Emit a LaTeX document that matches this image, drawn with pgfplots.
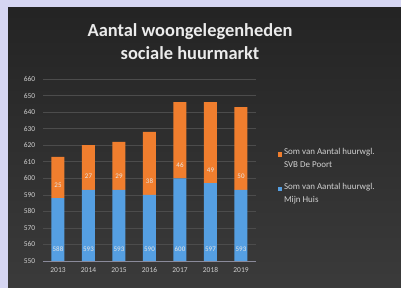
\documentclass[border=0pt]{standalone}
\usepackage{fontspec}
\setmainfont{Carlito}
\usepackage{pgfplots}
\pgfplotsset{compat=1.18}
\usepackage{pgfplotstable}
\definecolor{bgborder}{HTML}{D6D6F2}
\definecolor{barorange}{HTML}{F07E2E}
\definecolor{barblue}{HTML}{559FE2}
\definecolor{ticktext}{HTML}{D0D0D0}
\definecolor{gridc}{HTML}{4C4C4C}
\definecolor{axisc}{HTML}{8A8A9A}

\pgfplotstableread{
x blue orange
0 588 25
1 593 27
2 593 29
3 590 38
4 600 46
5 597 49
6 593 50
}\datatable

\pgfplotstableread{
x y lab
0 557 588
1 557 593
2 557 593
3 557 590
4 557 600
5 557 597
6 557 593
0 596 25
1 601 27
2 601 29
3 598 38
4 608 46
5 605 49
6 601 50
}\labeltable

\begin{document}
\begin{tikzpicture}
\useasboundingbox (0,0) rectangle (401bp,288bp);
\fill[bgborder] (0,0) rectangle (401bp,288bp);
\shade[top color=black!86, bottom color=black!77] (8bp,0) rectangle (401bp,280bp);
\node[font=\bfseries\fontsize{18.5}{23}\selectfont, text=white!92!black, align=center] at (190bp,246.5bp) {Aantal woongelegenheden\\sociale huurmarkt};
\begin{axis}[
  at={(42.75bp,27bp)}, anchor=south west,
  scale only axis, width=213.5bp, height=182bp,
  ybar stacked, bar width=13bp,
  ymin=550, ymax=660, xmin=-0.5, xmax=6.5,
  ytick distance=10,
  xtick={0,1,2,3,4,5,6},
  xticklabels={2013,2014,2015,2016,2017,2018,2019},
  ymajorgrids, grid style={gridc, line width=0.5pt},
  axis lines*=left,
  y axis line style={draw=none},
  x axis line style={axisc, line width=0.6pt},
  major tick length=0pt,
  tick style={draw=none},
  ticklabel style={font=\fontsize{7.5}{8}\selectfont, text=ticktext},
  /pgf/number format/assume math mode=true,
  y tick label style={/pgf/number format/1000 sep={}, xshift=-4bp},
  x tick label style={yshift=-3bp},
  legend style={at={(1.085,0.64)}, anchor=north west, draw=none, fill=none,
    font=\fontsize{9}{13}\selectfont, text=ticktext, nodes={align=left}, row sep=10pt},
  legend image code/.code={\fill[#1] (0,0.25em) rectangle (0.45em,0.7em);},
  reverse legend,
]
\addplot[fill=barblue, draw=none] table[x=x,y=blue]{\datatable};
\addlegendentry{Som van Aantal huurwgl.\\Mijn Huis}
\addplot[fill=barorange, draw=none] table[x=x,y=orange]{\datatable};
\addlegendentry{Som van Aantal huurwgl.\\SVB De Poort}
\end{axis}
\begin{axis}[
  at={(42.75bp,27bp)}, anchor=south west,
  scale only axis, width=213.5bp, height=182bp,
  ymin=550, ymax=660, xmin=-0.5, xmax=6.5,
  hide axis,
]
\addplot[only marks, mark=none, nodes near coords, point meta=explicit symbolic,
  nodes near coords style={font=\fontsize{7}{8}\selectfont, text=white!90!black, anchor=center}]
  table[x=x,y=y,meta=lab]{\labeltable};
\end{axis}
\end{tikzpicture}
\end{document}
